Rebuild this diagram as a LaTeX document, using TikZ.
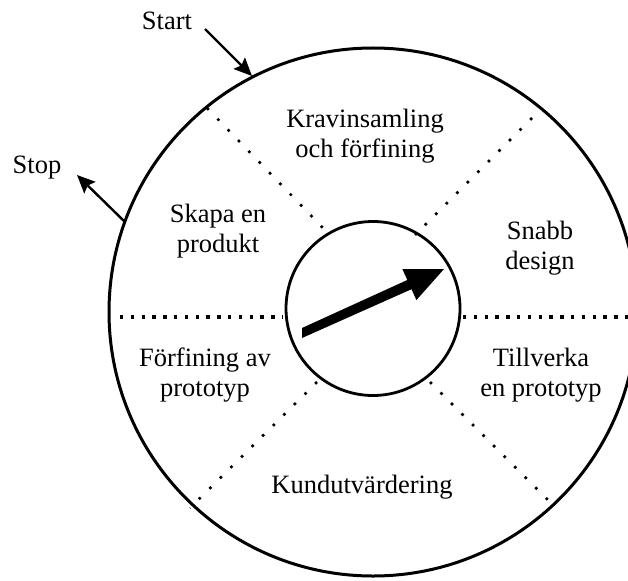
\documentclass[tikz,border=0pt]{standalone}
\usepackage{fontspec}
\setmainfont{Liberation Serif}
\usetikzlibrary{arrows.meta}
\begin{document}
\begin{tikzpicture}[x=1pt,y=-1pt,
  lbl/.style={align=center,inner sep=0pt,font=\fontsize{26.5}{30}\selectfont},
  ring/.style={line width=3pt},
  bigdiv/.style={line width=3.3pt,dash pattern=on 3.3pt off 7.5pt},
  smalldiv/.style={line width=2.6pt,dash pattern=on 2.6pt off 12.3pt},
  flow/.style={line width=2.4pt,-{Stealth[length=18pt,width=16pt,inset=3pt]}}]
\useasboundingbox (0,0) rectangle (628,580);
\clip (0,0) rectangle (628,580);
\fill[white] (0,0) rectangle (628,580);

% rings
\coordinate (c) at (373,312);
\draw[ring] (c) circle[radius=264];
\coordinate (hub) at (373,308.5);
\draw[line width=2.8pt] (hub) circle[radius=87];

% sector dividers
\coordinate (hl1) at (120,317); \coordinate (hl2) at (283,317);
\coordinate (hr1) at (463,317); \coordinate (hr2) at (632,317);
\draw[bigdiv] (hl1) -- (hl2);
\draw[bigdiv] (hr1) -- (hr2);
\coordinate (ul1) at (207,108); \coordinate (ul2) at (323,228);
\coordinate (ur1) at (532,118); \coordinate (ur2) at (415,235);
\coordinate (ll1) at (190,508); \coordinate (ll2) at (317,382);
\coordinate (lr1) at (430,382); \coordinate (lr2) at (548,500);
\draw[smalldiv] (ul1) -- (ul2);
\draw[smalldiv] (ur1) -- (ur2);
\draw[smalldiv] (ll2) -- (ll1);
\draw[smalldiv] (lr1) -- (lr2);

% pointer in the hub
\fill (302,328) -- (407.3,280.0) -- (402.4,269.1) -- (444,269)
  -- (416.4,300.1) -- (411.5,289.2) -- (302,338) -- cycle;

% phase labels
\node[lbl] (req) at (365,135.8) {Kravinsamling\\och förfining};
\node[lbl] (design) at (540,247.8) {Snabb\\design};
\node[lbl] (build) at (541,375) {Tillverka\\en prototyp};
\node[lbl,anchor=base] (eval) at (362,493) {Kundutvärdering};
\node[lbl] (refine) at (205,375.3) {Förfining av\\prototyp};
\node[lbl] (make) at (218,231.3) {Skapa en\\produkt};

% entry and exit
\node[lbl,anchor=base] (start) at (167,30) {Start};
\node[lbl,anchor=base] (stop) at (37,173) {Stop};
\coordinate (startfrom) at (205,29);
\coordinate (startat) at (252,76);
\coordinate (stopfrom) at (125,222);
\coordinate (stopto) at (77,175);
\draw[flow] (startfrom) -- (startat);
\draw[flow] (stopfrom) -- (stopto);
\end{tikzpicture}
\end{document}
